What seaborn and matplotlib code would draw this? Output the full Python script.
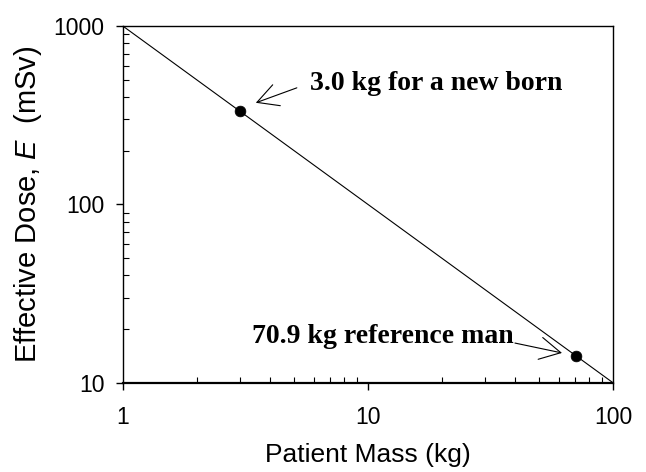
import matplotlib
matplotlib.use("Agg")
import matplotlib.pyplot as plt
import seaborn as sns
import pandas as pd
from matplotlib.ticker import LogLocator, NullFormatter, FixedLocator, FixedFormatter

# --- data ---
line_mass = [1.0, 100.0]
line_dose = [1000.0, 10.0]
point_mass = [3.0, 70.9]
point_dose = [333.0, 14.1]
point_labels = ["3.0 kg for a new born", "70.9 kg reference man"]
x_ticks = [1, 10, 100]
x_tick_labels = ["1", "10", "100"]
y_ticks = [10, 100, 1000]
y_tick_labels = ["10", "100", "1000"]

sns.set_theme(style="white")
plt.rcParams["font.family"] = ["Liberation Sans", "DejaVu Sans"]
plt.rcParams["mathtext.fontset"] = "custom"
plt.rcParams["mathtext.it"] = "Liberation Sans:italic"
plt.rcParams["mathtext.rm"] = "Liberation Sans"

fig, ax = plt.subplots(figsize=(6.46, 4.72), dpi=100)
fig.subplots_adjust(left=0.190, right=0.949, top=0.945, bottom=0.189)

df_line = pd.DataFrame({"mass": line_mass, "dose": line_dose})
df_pts = pd.DataFrame({"mass": point_mass, "dose": point_dose})

sns.lineplot(data=df_line, x="mass", y="dose", ax=ax, color="black", linewidth=0.8)
sns.scatterplot(data=df_pts, x="mass", y="dose", ax=ax, color="black", s=60,
                edgecolor="black", linewidth=0.5, zorder=3)

ax.set_xscale("log")
ax.set_yscale("log")
ax.set_xlim(1, 100)
ax.set_ylim(10, 1000)

ax.xaxis.set_major_locator(FixedLocator(x_ticks))
ax.xaxis.set_major_formatter(FixedFormatter(x_tick_labels))
ax.yaxis.set_major_locator(FixedLocator(y_ticks))
ax.yaxis.set_major_formatter(FixedFormatter(y_tick_labels))
ax.xaxis.set_minor_locator(LogLocator(base=10, subs=range(2, 10)))
ax.yaxis.set_minor_locator(LogLocator(base=10, subs=range(2, 10)))
ax.xaxis.set_minor_formatter(NullFormatter())
ax.yaxis.set_minor_formatter(NullFormatter())

ax.tick_params(which="major", direction="out", length=5, width=1.0, colors="black",
               labelsize=16.5, bottom=True, left=True, top=False, right=False)
ax.tick_params(axis="x", which="major", pad=12)
ax.tick_params(axis="y", which="major", pad=8)
ax.tick_params(which="minor", direction="in", length=4, width=0.8, colors="black",
               bottom=True, left=True, top=False, right=False)

for side, sp in ax.spines.items():
    sp.set_color("black")
    sp.set_linewidth(1.0)
ax.spines["bottom"].set_linewidth(1.6)

ax.set_xlabel("Patient Mass (kg)", fontsize=19, labelpad=10, color="black")
ax.set_ylabel("Effective Dose, $\\mathit{E}$  (mSv)", fontsize=21, labelpad=7, color="black")

# annotations
serif = ["Liberation Serif", "DejaVu Serif"]
ax.text(5.80, 437, point_labels[0], fontsize=20, fontweight="bold", family=serif,
        ha="left", va="baseline", color="black")
ax.text(3.36, 16.7, point_labels[1], fontsize=20, fontweight="bold", family=serif,
        ha="left", va="baseline", color="black")

arrow = dict(arrowstyle="->,head_length=1.5,head_width=0.8", color="black",
             linewidth=0.8, shrinkA=0, shrinkB=0, mutation_scale=10)
ax.annotate("", xy=(3.49, 371), xytext=(5.13, 450), arrowprops=arrow)
ax.annotate("", xy=(61.9, 14.7), xytext=(39.8, 16.7), arrowprops=arrow)

fig.savefig("out.png", dpi=100)
